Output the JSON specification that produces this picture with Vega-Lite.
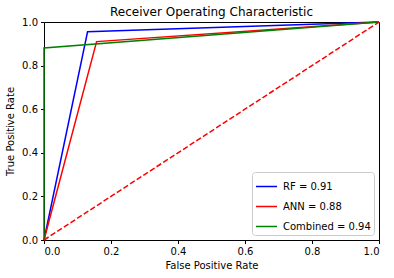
{
  "$schema": "https://vega.github.io/schema/vega-lite/v6.json",
  "autosize": "none",
  "width": 335,
  "height": 218,
  "padding": {"left": 44, "top": 22, "right": 15, "bottom": 38},
  "config": {
    "font": "DejaVu Sans",
    "view": {"stroke": "black", "strokeWidth": 1},
    "axis": {
      "domainColor": "black", "tickColor": "black", "tickSize": 3.5,
      "labelFont": "DejaVu Sans", "labelFontSize": 10, "labelColor": "black",
      "titleFont": "DejaVu Sans", "titleFontSize": 10, "titleFontWeight": "normal", "titleColor": "black",
      "grid": false
    }
  },
  "title": {"text": "Receiver Operating Characteristic", "fontSize": 12, "fontWeight": "normal", "font": "DejaVu Sans", "color": "black", "offset": -2},
  "data": {"values": [
    {"series": "RF = 0.91", "fpr": 0, "tpr": 0, "i": 0},
    {"series": "RF = 0.91", "fpr": 0.13, "tpr": 0.955, "i": 1},
    {"series": "RF = 0.91", "fpr": 1, "tpr": 1, "i": 2},
    {"series": "ANN = 0.88", "fpr": 0, "tpr": 0, "i": 0},
    {"series": "ANN = 0.88", "fpr": 0.157, "tpr": 0.91, "i": 1},
    {"series": "ANN = 0.88", "fpr": 1, "tpr": 1, "i": 2},
    {"series": "Combined = 0.94", "fpr": 0, "tpr": 0, "i": 0},
    {"series": "Combined = 0.94", "fpr": 0, "tpr": 0.881, "i": 1},
    {"series": "Combined = 0.94", "fpr": 1, "tpr": 1, "i": 2}
  ]},
  "layer": [
    {
      "mark": {"type": "line", "strokeWidth": 1.5, "clip": false},
      "encoding": {
        "x": {"field": "fpr", "type": "quantitative", "scale": {"domain": [0, 1], "nice": false}, "axis": {"title": "False Positive Rate", "values": [0, 0.2, 0.4, 0.6, 0.8, 1.0], "format": ".1f", "titlePadding": 4, "labelPadding": 3}},
        "y": {"field": "tpr", "type": "quantitative", "scale": {"domain": [0, 1], "nice": false}, "axis": {"title": "True Positive Rate", "values": [0, 0.2, 0.4, 0.6, 0.8, 1.0], "format": ".1f", "titlePadding": 6, "labelPadding": 3}},
        "color": {"field": "series", "type": "nominal",
          "scale": {"domain": ["RF = 0.91", "ANN = 0.88", "Combined = 0.94"], "range": ["#0000ff", "#ff0000", "#008000"]},
          "legend": {"title": null, "orient": "bottom-right", "offset": 5, "symbolType": "stroke", "symbolSize": 441, "symbolStrokeWidth": 1.5,
            "labelFontSize": 10, "labelFont": "DejaVu Sans", "labelColor": "black", "labelOffset": 5, "fillColor": "white", "strokeColor": "#cccccc",
            "cornerRadius": 3, "padding": 3, "rowPadding": 3}},
        "order": {"field": "i", "type": "quantitative"}
      }
    },
    {
      "data": {"values": [{"fpr": 0, "tpr": 0}, {"fpr": 1, "tpr": 1}]},
      "mark": {"type": "line", "color": "#ff0000", "strokeWidth": 1.5, "strokeDash": [5.5, 2.4]},
      "encoding": {
        "x": {"field": "fpr", "type": "quantitative"},
        "y": {"field": "tpr", "type": "quantitative"}
      }
    }
  ]
}
